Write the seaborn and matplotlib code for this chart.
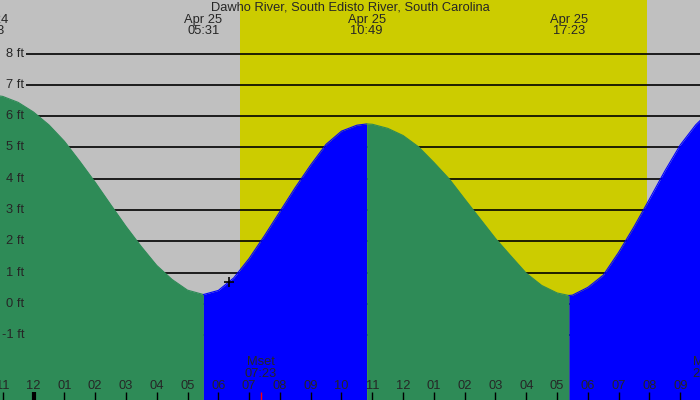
import matplotlib
matplotlib.use("Agg")
import matplotlib.pyplot as plt
import matplotlib.transforms as mtransforms
import numpy as np
import pandas as pd
import seaborn as sns

# ---------------- data (hours from Apr 25 00:00, heights in ft) ----------------
hours = [-1.5, -1.0, -0.5, 0.0, 0.5, 1.0, 1.5, 2.0, 2.5, 3.0, 3.5, 4.0, 4.5, 5.0,
         5.517, 6.0, 6.5, 7.0, 7.5, 8.0, 8.5, 9.0, 9.5, 10.0, 10.5, 10.817,
         11.0, 11.5, 12.0, 12.5, 13.0, 13.5, 14.0, 14.5, 15.0, 15.5, 16.0, 16.5, 17.0,
         17.383, 17.5, 18.0, 18.5, 19.0, 19.5, 20.0, 20.5, 21.0, 21.5, 22.0]
heights = [6.70, 6.63, 6.44, 6.13, 5.72, 5.20, 4.56, 3.89, 3.18, 2.48, 1.83, 1.23, 0.78, 0.44,
           0.30, 0.43, 0.83, 1.45, 2.18, 2.95, 3.72, 4.44, 5.10, 5.52, 5.71, 5.75,
           5.74, 5.61, 5.38, 5.02, 4.52, 3.99, 3.35, 2.72, 2.09, 1.53, 0.98, 0.59, 0.35,
           0.27, 0.28, 0.53, 0.92, 1.65, 2.47, 3.35, 4.25, 5.08, 5.72, 6.20]

extreme_hours = [-1.45, 5.517, 10.817, 17.383]
extreme_dates = ["Apr 24", "Apr 25", "Apr 25", "Apr 25"]
extreme_times = ["22:33", "05:31", "10:49", "17:23"]

sunrise, sunset = 6.70, 19.92
moon_hours = [7.383, 21.92]
moon_labels = ["Mset", "Mrise"]
moon_times = ["07:23", "21:55"]

marker_hour, marker_height = 6.357, 0.69

ft_levels = [-1, 0, 1, 2, 3, 4, 5, 6, 7, 8]
hour_ticks = list(range(-1, 22))
title = "Dawho River, South Edisto River, South Carolina"

# ---------------- style ----------------
GRAY = "#c0c0c0"
YELLOW = "#cccc00"
GREEN = "#2e8b57"
BLUE = "#0000ff"

sns.set_theme(style="white")
plt.rcParams["font.family"] = ["Liberation Sans", "DejaVu Sans"]
FS = 9.3

fig = plt.figure(figsize=(7, 4), dpi=100)
ax = fig.add_axes([0, 0, 1, 1])
ax.set_facecolor(GRAY)
ax.set_xlim(-1.088, 21.64)
ax.set_ylim(-3.07, 9.71)
for s in ax.spines.values():
    s.set_visible(False)

# daylight
ax.axvspan(sunrise, sunset, color=YELLOW, zorder=0, lw=0)

# grid lines and labels
ax.hlines(ft_levels, -0.244, 21.64, color="black", lw=1.2, zorder=1)
for f in ft_levels:
    ax.text(-0.308, f, f"{f} ft", ha="right", va="center", fontsize=FS, zorder=5)

# tide fill, coloured by rising / falling
df = pd.DataFrame({"hour": hours, "height": heights})
bounds = [min(hours)] + extreme_hours[1:] + [max(hours)]
for a, b in zip(bounds[:-1], bounds[1:]):
    seg = df[(df.hour >= a) & (df.hour <= b)]
    rising = seg.height.iloc[-1] > seg.height.iloc[0]
    col = BLUE if rising else GREEN
    ax.fill_between(seg.hour, -5, seg.height, color=col, lw=0, zorder=2)
    sns.lineplot(data=seg, x="hour", y="height", ax=ax, color=col, lw=0.8,
                 zorder=2, legend=False)

sns.scatterplot(x=[marker_hour], y=[marker_height], ax=ax, marker="+", s=60,
                color="black", linewidth=1.2, zorder=4)
ax.set_xlabel("")
ax.set_ylabel("")
ax.set_xticks([])
ax.set_yticks([])

# top labels
trans = mtransforms.blended_transform_factory(ax.transData, ax.transAxes)
ax.text(0.5, 0.98, title, transform=ax.transAxes, ha="center", va="center",
        fontsize=FS, zorder=6)
for h, d, t in zip(extreme_hours, extreme_dates, extreme_times):
    ax.text(h, 0.951, d, transform=trans, ha="center", va="center", fontsize=FS, zorder=6)
    ax.text(h, 0.922, t, transform=trans, ha="center", va="center", fontsize=FS, zorder=6)

# bottom hour labels and ticks
for h in hour_ticks:
    lab = f"{(h % 12) or 12:02d}"
    ax.text(h, 0.0357, lab, transform=trans, ha="center", va="center", fontsize=FS, zorder=6)
    lw = 3 if h % 24 == 0 else 1
    ax.plot([h, h], [0, 0.02], transform=trans, color="black", lw=lw, zorder=6,
            solid_capstyle="butt")

# moon events
for h, lab, t in zip(moon_hours, moon_labels, moon_times):
    ax.text(h, 0.0957, lab, transform=trans, ha="center", va="center", fontsize=FS, zorder=6)
    ax.text(h, 0.066, t, transform=trans, ha="center", va="center", fontsize=FS, zorder=6)
    ax.plot([h, h], [0, 0.02], transform=trans, color="red", lw=1, zorder=6,
            solid_capstyle="butt")

fig.savefig("out.png", dpi=100)
